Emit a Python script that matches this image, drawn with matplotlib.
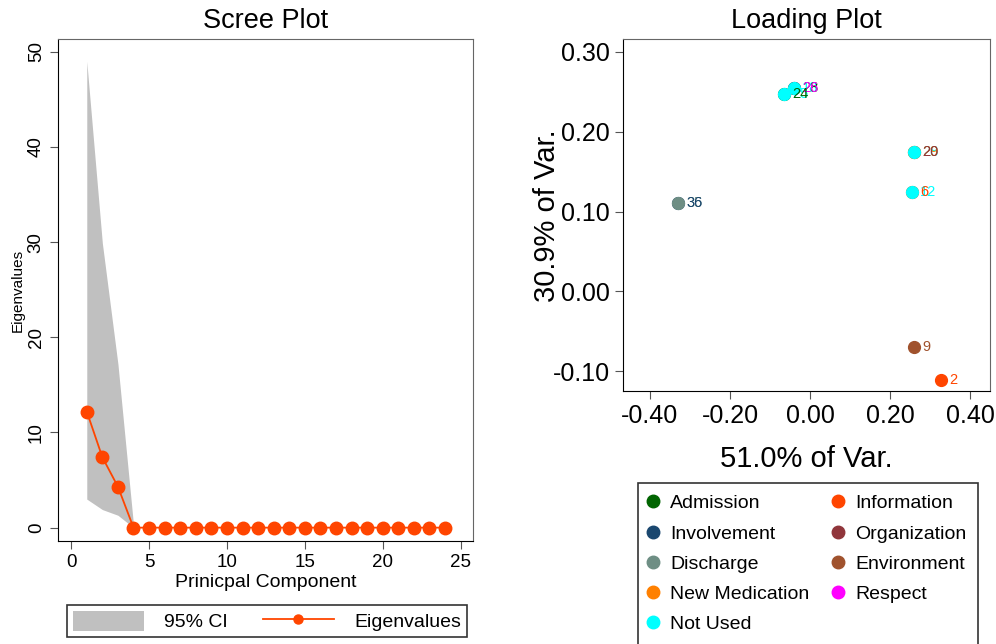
import numpy as np
import matplotlib
matplotlib.use("Agg")
import matplotlib.pyplot as plt
from matplotlib.patches import Patch
from matplotlib.lines import Line2D

plt.rcParams['font.family'] = ['Liberation Sans', 'DejaVu Sans']

# scree data
components = list(range(1, 25))
eigenvalues = [12.2, 7.4, 4.3] + [0.0] * 21
ci_x = [1, 2, 3, 4]
ci_upper = [49.0, 29.9, 17.2, 0.3]
ci_lower = [3.0, 1.9, 1.3, 0.0]

# loading data (drawn in this order, later ones on top)
item_labels = ['36', '35', '24', '26', '28', '25', '18', '20', '29', '28', '6', '12', '9', '2']
item_groups = ['Involvement', 'Discharge', 'Admission', 'Respect', 'Admission', 'Not Used',
               'Not Used', 'Organization', 'New Medication', 'Not Used', 'Information',
               'Not Used', 'Environment', 'Information']
pc1 = [-0.33, -0.33, -0.065, -0.04, -0.04, -0.065, -0.04, 0.26, 0.26, 0.26, 0.255, 0.255, 0.26, 0.327]
pc2 = [0.111, 0.111, 0.247, 0.255, 0.255, 0.247, 0.255, 0.175, 0.175, 0.175, 0.125, 0.125, -0.07, -0.111]

group_names = ['Admission', 'Involvement', 'Discharge', 'New Medication', 'Not Used',
               'Information', 'Organization', 'Environment', 'Respect']
group_colors = ['#006400', '#1a476f', '#6e8e84', '#ff8000', '#00ffff',
                '#ff4500', '#90353b', '#a0522d', '#ff00ff']
colmap = dict(zip(group_names, group_colors))

fig = plt.figure(figsize=(9.96, 6.44), dpi=100)

def frame(ax):
    for s in ['top', 'right']:
        ax.spines[s].set_color('#666666')
    for s in ['left', 'bottom']:
        ax.spines[s].set_color('black')
    ax.tick_params(direction='out', length=6, color='#555555')

# ---- scree plot
ax1 = fig.add_axes([0.0582, 0.160, 0.4167, 0.7787])
ax1.fill_between(ci_x, ci_lower, ci_upper, color='#c0c0c0', linewidth=0)
ax1.plot(components, eigenvalues, '-o', color='#ff4500', ms=9, lw=1.3)
ax1.set_xlim(-0.85, 25.8)
ax1.set_ylim(-1.4, 51.3)
ax1.set_xticks([0, 5, 10, 15, 20, 25])
ax1.set_yticks([0, 10, 20, 30, 40, 50])
ax1.tick_params(labelsize=13.5)
for t in ax1.get_yticklabels():
    t.set_rotation(90)
    t.set_va('center')
frame(ax1)
ax1.set_title('Scree Plot', fontsize=19.5, pad=8)
ax1.set_xlabel('Prinicpal Component', fontsize=14, labelpad=2)
ax1.set_ylabel('Eigenvalues', fontsize=11, labelpad=2)

h1 = [Patch(facecolor='#c0c0c0', edgecolor='none'),
      Line2D([], [], color='#ff4500', marker='o', ms=6.5, lw=1.3)]
leg1 = fig.legend(h1, ['95% CI', 'Eigenvalues'], ncol=2, loc='upper left',
                  bbox_to_anchor=(67 / 996, 1 - 605 / 644), fontsize=14,
                  frameon=True, fancybox=False, edgecolor='black',
                  handlelength=3.65, handleheight=1.2, handletextpad=1.05,
                  columnspacing=1.8, borderpad=0.3, borderaxespad=0)
leg1.get_frame().set_linewidth(1.2)

# ---- loading plot
ax2 = fig.add_axes([0.6255, 0.3929, 0.3685, 0.5458])
for x, y, g in zip(pc1, pc2, item_groups):
    ax2.plot(x, y, 'o', color=colmap[g], ms=8.5)
for x, y, lab, g in reversed(list(zip(pc1, pc2, item_labels, item_groups))):
    ax2.annotate(lab, (x, y), xytext=(6, 0), textcoords='offset points',
                 va='center', ha='left', color=colmap[g], fontsize=10.5)
ax2.set_xlim(-0.4675, 0.45)
ax2.set_ylim(-0.125, 0.3157)
ax2.set_xticks([-0.4, -0.2, 0.0, 0.2, 0.4])
ax2.set_yticks([-0.1, 0.0, 0.1, 0.2, 0.3])
ax2.xaxis.set_major_formatter(matplotlib.ticker.FormatStrFormatter('%.2f'))
ax2.yaxis.set_major_formatter(matplotlib.ticker.FormatStrFormatter('%.2f'))
ax2.tick_params(labelsize=18)
frame(ax2)
ax2.set_title('Loading Plot', fontsize=19.5, pad=8)
ax2.set_xlabel('51.0% of Var.', fontsize=21, labelpad=12)
ax2.set_ylabel('30.9% of Var.', fontsize=21, labelpad=-6)

h2 = [Line2D([], [], color=c, marker='o', ls='none', ms=9) for c in group_colors]
leg2 = fig.legend(h2, group_names, ncol=2,
                  loc='upper left', bbox_to_anchor=(638 / 996, 1 - 483 / 644),
                  fontsize=14, frameon=True, fancybox=False, edgecolor='black',
                  handlelength=0.3, handletextpad=0.75, columnspacing=1.3,
                  labelspacing=0.65, borderpad=0.6, borderaxespad=0)
leg2.get_frame().set_linewidth(1.2)

fig.savefig('out.png', dpi=100)
